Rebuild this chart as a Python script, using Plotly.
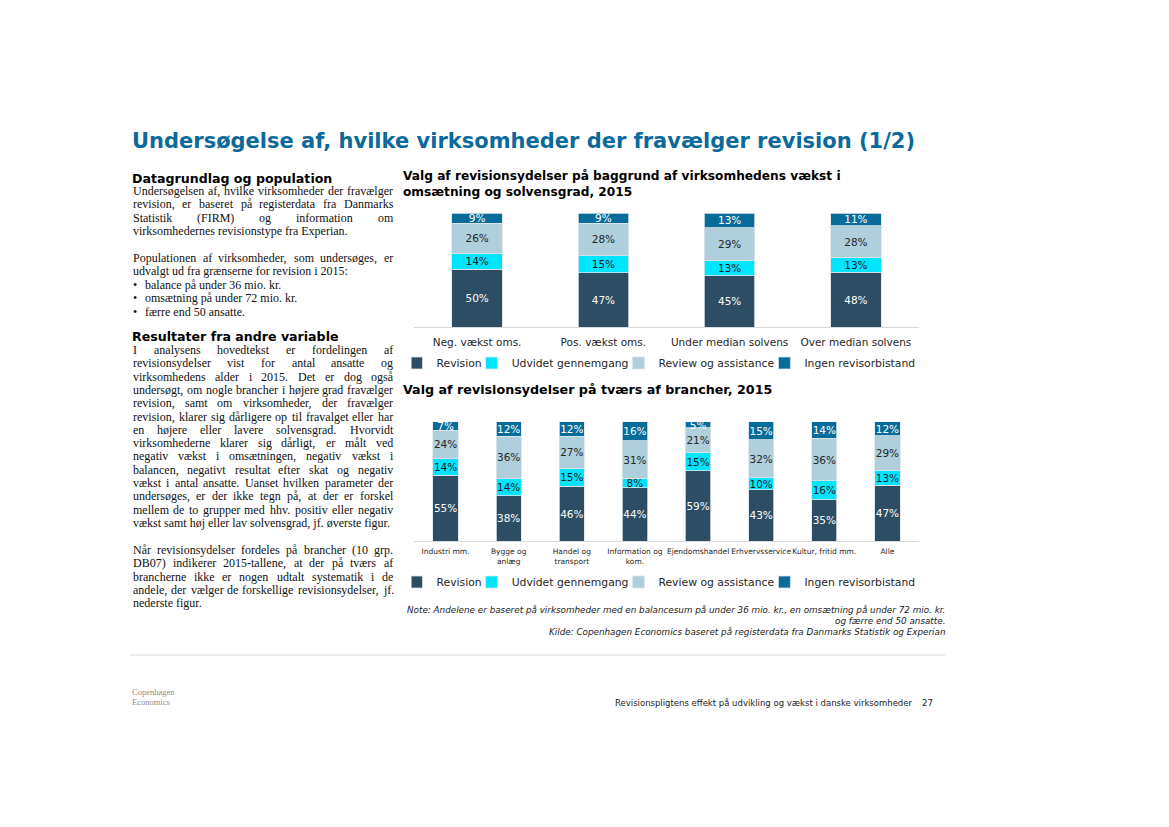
import plotly.graph_objects as go

W, H = 1169, 827
OFF = 8                      # default body margin of the html page
FW, FH = W - 2 * OFF, H - 2 * OFF


def px(x):
    return (x - OFF) / FW


def py(y):
    return 1 - (y - OFF) / FH


# ---------------- data ----------------
series_names = ["Revision", "Udvidet gennemgang", "Review og assistance", "Ingen revisorbistand"]

top_categories = ["Neg. vækst oms.", "Pos. vækst oms.", "Under median solvens", "Over median solvens"]
top_revision = [50, 47, 45, 48]
top_udvidet = [14, 15, 13, 13]
top_review = [26, 28, 29, 28]
top_ingen = [9, 9, 13, 11]

bottom_categories = ["Industri mm.", "Bygge og<br>anlæg", "Handel og<br>transport", "Information og<br>kom.",
                     "Ejendomshandel", "Erhvervsservice", "Kultur, fritid mm.", "Alle"]
bottom_revision = [55, 38, 46, 44, 59, 43, 35, 47]
bottom_udvidet = [14, 14, 15, 8, 15, 10, 16, 13]
bottom_review = [24, 36, 27, 31, 21, 32, 36, 29]
bottom_ingen = [7, 12, 12, 16, 5, 15, 14, 12]

# ---------------- styles ----------------
colors = ["#2C4D63", "#00E5FF", "#AECFDB", "#086C9A"]
text_colors = ["white", "#1A1A1A", "#262626", "white"]
CHART_FONT = "DejaVu Sans"
SERIF = "Liberation Serif"
TITLE_BLUE = "#0B6A9B"

fig = go.Figure()

top_series = [top_revision, top_udvidet, top_review, top_ingen]
bottom_series = [bottom_revision, bottom_udvidet, bottom_review, bottom_ingen]

for i, name in enumerate(series_names):
    fig.add_trace(go.Bar(
        x=top_categories, y=top_series[i], name=name,
        marker=dict(color=colors[i], line=dict(color="#DCE5EA", width=0.8)),
        text=[f"{v}%" for v in top_series[i]], textposition="inside",
        insidetextanchor="middle", textangle=0,
        textfont=dict(family=CHART_FONT, size=10.5, color=text_colors[i]),
        width=0.4, xaxis="x", yaxis="y", legend="legend", hoverinfo="skip",
    ))
for i, name in enumerate(series_names):
    fig.add_trace(go.Bar(
        x=bottom_categories, y=bottom_series[i], name=name,
        marker=dict(color=colors[i], line=dict(color="#DCE5EA", width=0.8)),
        text=[f"{v}%" for v in bottom_series[i]], textposition="inside",
        insidetextanchor="middle", textangle=0,
        textfont=dict(family=CHART_FONT, size=10.5, color=text_colors[i]),
        width=0.4, xaxis="x2", yaxis="y2", legend="legend2", hoverinfo="skip",
    ))

axis_common = dict(showline=True, linecolor="#D9D9D9", linewidth=1, ticks="",
                   showgrid=False, zeroline=False, fixedrange=True, tickangle=0)

legend_common = dict(orientation="h", xanchor="center", yanchor="middle",
                     font=dict(family=CHART_FONT, size=10.8, color="#262626"),
                     traceorder="normal", bgcolor="rgba(0,0,0,0)", itemwidth=30,
                     indentation=-15)

fig.update_layout(
    width=FW, height=FH, margin=dict(l=0, r=0, t=0, b=0),
    paper_bgcolor="white", plot_bgcolor="white",
    barmode="stack", barnorm="percent",
    uniformtext=dict(minsize=10, mode="show"),
    xaxis=dict(domain=[px(414), px(919)], anchor="y", range=[-0.5, 3.5],
               tickfont=dict(family=CHART_FONT, size=10.5, color="#262626"),
               ticklabelstandoff=5, **axis_common),
    yaxis=dict(domain=[py(327), py(213)], anchor="x", range=[0, 100], visible=False),
    xaxis2=dict(domain=[px(414), px(919)], anchor="y2", range=[-0.5, 7.5],
                tickfont=dict(family=CHART_FONT, size=7.5, color="#262626"),
                ticklabelstandoff=3, **axis_common),
    yaxis2=dict(domain=[py(541), py(421.7)], anchor="x2", range=[0, 100], visible=False),
    legend=dict(x=px(666), y=py(363), **legend_common),
    legend2=dict(x=px(666), y=py(582), **legend_common),
    showlegend=True,
)

annotations = []


def ann(text, x, y, size, family=CHART_FONT, color="#111111", xanchor="left"):
    annotations.append(dict(text=text, x=px(x), y=py(y), xref="paper", yref="paper",
                            xanchor=xanchor, yanchor="middle", showarrow=False, align="left",
                            font=dict(family=family, size=size, color=color)))


# Title
ann("<b>Undersøgelse af, hvilke virksomheder der fravælger revision (1/2)</b>", 130, 141, 21,
    color=TITLE_BLUE)

# Chart titles
ann("<b>Valg af revisionsydelser på baggrund af virksomhedens vækst i</b><br>"
    "<b>omsætning og solvensgrad, 2015</b>", 401, 184.3, 12.2, color="#000")
ann("<b>Valg af revisionsydelser på tværs af brancher, 2015</b>", 401, 389, 12.7, color="#000")

# Left column headings
ann("<b>Datagrundlag og population</b>", 130, 178, 12.6, color="#000")
ann("<b>Resultater fra andre variable</b>", 130, 337, 12.6, color="#000")

# Times / Liberation Serif metrics (1/1000 em)
TIMES = {' ': 250, '!': 333, '%': 833, '(': 333, ')': 333, ',': 250, '-': 333, '.': 250, '/': 278,
         ':': 278, ';': 278, '•': 350,
         'A': 722, 'B': 667, 'C': 667, 'D': 722, 'E': 611, 'F': 556, 'G': 722, 'H': 722, 'I': 333,
         'J': 389, 'K': 722, 'L': 611, 'M': 889, 'N': 722, 'O': 722, 'P': 556, 'Q': 722, 'R': 667,
         'S': 556, 'T': 611, 'U': 722, 'V': 722, 'W': 944, 'X': 722, 'Y': 722, 'Z': 611,
         'a': 444, 'b': 500, 'c': 444, 'd': 500, 'e': 444, 'f': 333, 'g': 500, 'h': 500, 'i': 278,
         'j': 278, 'k': 500, 'l': 278, 'm': 778, 'n': 500, 'o': 500, 'p': 500, 'q': 500, 'r': 333,
         's': 389, 't': 278, 'u': 500, 'v': 500, 'w': 722, 'x': 500, 'y': 500, 'z': 444,
         'æ': 667, 'ø': 500, 'å': 444, 'Æ': 889, 'Ø': 722, 'Å': 722}
BODY_SIZE = 12
X0, X1 = 131, 391


def tw(s, size=BODY_SIZE):
    return sum(TIMES.get(c, 500) for c in s) * size / 1000


def body_line(line, y, justify, x0=X0, x1=X1):
    words = line.split(" ")
    if not justify or len(words) < 2:
        ann(line, x0, y, BODY_SIZE, family=SERIF)
        return
    total = sum(tw(w) for w in words)
    gap = (x1 - x0 - total) / (len(words) - 1)
    gap = max(gap, tw(" "))
    x = x0
    for w in words:
        ann(w, x, y, BODY_SIZE, family=SERIF)
        x += tw(w) + gap


block1 = [("Undersøgelsen af, hvilke virksomheder der fravælger", True),
          ("revision, er baseret på registerdata fra Danmarks", True),
          ("Statistik (FIRM) og information om", True),
          ("virksomhedernes revisionstype fra Experian.", False)]
for k, (line, j) in enumerate(block1):
    body_line(line, 191 + 13.3 * k, j)

block2 = [("Populationen af virksomheder, som undersøges, er", True),
          ("udvalgt ud fra grænserne for revision i 2015:", False)]
for k, (line, j) in enumerate(block2):
    body_line(line, 258 + 13.3 * k, j)

bullets = ["balance på under 36 mio. kr.", "omsætning på under 72 mio. kr.", "færre end 50 ansatte."]
for k, line in enumerate(bullets):
    ann("•", 131, 285 + 13.3 * k, BODY_SIZE, family=SERIF)
    ann(line, 143, 285 + 13.3 * k, BODY_SIZE, family=SERIF)

block3 = [("I analysens hovedtekst er fordelingen af", True),
          ("revisionsydelser vist for antal ansatte og", True),
          ("virksomhedens alder i 2015. Det er dog også", True),
          ("undersøgt, om nogle brancher i højere grad fravælger", True),
          ("revision, samt om virksomheder, der fravælger", True),
          ("revision, klarer sig dårligere op til fravalget eller har", True),
          ("en højere eller lavere solvensgrad. Hvorvidt", True),
          ("virksomhederne klarer sig dårligt, er målt ved", True),
          ("negativ vækst i omsætningen, negativ vækst i", True),
          ("balancen, negativt resultat efter skat og negativ", True),
          ("vækst i antal ansatte. Uanset hvilken parameter der", True),
          ("undersøges, er der ikke tegn på, at der er forskel", True),
          ("mellem de to grupper med hhv. positiv eller negativ", True),
          ("vækst samt høj eller lav solvensgrad, jf. øverste figur.", False)]
for k, (line, j) in enumerate(block3):
    body_line(line, 350 + 13.3 * k, j)

block4 = [("Når revisionsydelser fordeles på brancher (10 grp.", True),
          ("DB07) indikerer 2015-tallene, at der på tværs af", True),
          ("brancherne ikke er nogen udtalt systematik i de", True),
          ("andele, der vælger de forskellige revisionsydelser, jf.", True),
          ("nederste figur.", False)]
for k, (line, j) in enumerate(block4):
    body_line(line, 550 + 13.3 * k, j)

# Note / source
NOTE_X = 947
NOTE_SIZE = 8.8
ann("<i>Note: Andelene er baseret på virksomheder med en balancesum på under 36 mio. kr., en omsætning på under 72 mio. kr.</i>",
    NOTE_X, 610, NOTE_SIZE, color="#222222", xanchor="right")
ann("<i>og færre end 50 ansatte.</i>", NOTE_X, 621, NOTE_SIZE, color="#222222", xanchor="right")
ann("<i>Kilde: Copenhagen Economics baseret på registerdata fra Danmarks Statistik og Experian</i>",
    NOTE_X, 632, NOTE_SIZE, color="#222222", xanchor="right")

# Footer
ann("Copenhagen", 130, 692, 8.5, family=SERIF, color="#8C8C8C")
ann("Economics", 130, 702, 8.5, family=SERIF, color="#8C8C8C")
ann("Revisionspligtens effekt på udvikling og vækst i danske virksomheder", 914, 703, 8.5,
    color="#222222", xanchor="right")
ann("27", 920, 703, 8.5, color="#222222")

fig.update_layout(annotations=annotations)

fig.add_shape(type="line", xref="paper", yref="paper", x0=px(130), x1=px(945), y0=py(655), y1=py(655),
              line=dict(color="#D6D6D6", width=1))

fig.write_html("out.html")
